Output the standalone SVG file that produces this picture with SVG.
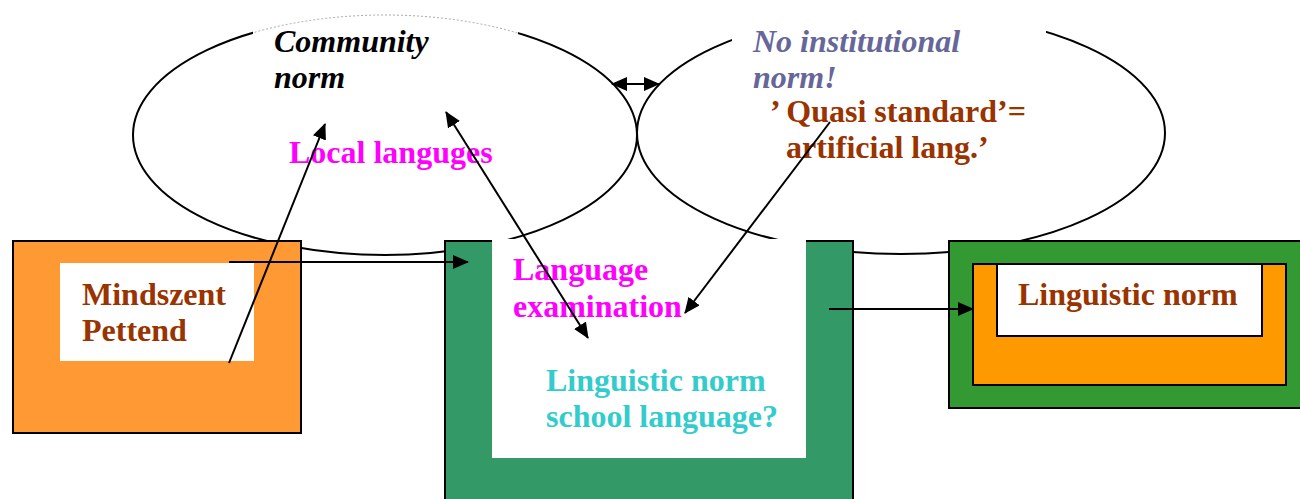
<svg xmlns="http://www.w3.org/2000/svg" width="1300" height="499" viewBox="0 0 1300 499">
<style>
text{font-family:"Liberation Serif","Times New Roman",serif;font-weight:bold;font-size:32px}
.it{font-style:italic}
.ell{fill:none;stroke:#000;stroke-width:2}
.box{stroke:#000;stroke-width:2}
.ln{fill:none;stroke:#000;stroke-width:2}
</style>
<defs>
<marker id="ah" markerUnits="userSpaceOnUse" markerWidth="16" markerHeight="14" refX="15" refY="7" orient="auto-start-reverse">
<path d="M0,0 L16,7 L0,14 Z" fill="#000"/>
</marker>
<clipPath id="gapL"><rect x="253" y="5" width="265" height="32"/></clipPath>
</defs>
<rect width="1300" height="499" fill="#fff"/>
<g id="ellipse-community">
<ellipse class="ell" cx="385" cy="135" rx="252" ry="120"/>
<rect x="253" y="5" width="265" height="32" fill="#fff"/>
<ellipse cx="385" cy="135" rx="252" ry="120" fill="none" stroke="#aaa" stroke-width="1" stroke-dasharray="2 2" clip-path="url(#gapL)"/>
<text class="it" x="274" y="52">Community</text>
<text class="it" x="274" y="88">norm</text>
<text x="289" y="163" fill="#FF00FF">Local languges</text>
</g>
<g id="ellipse-institutional">
<ellipse class="ell" cx="901" cy="133" rx="264" ry="121"/>
<rect x="732" y="5" width="314" height="36" fill="#fff"/>
<text class="it" x="753" y="52" fill="#666699">No institutional</text>
<text class="it" x="753" y="88" fill="#666699">norm!</text>
<text x="770" y="122" fill="#993300">’ Quasi standard’=</text>
<text x="786" y="158" fill="#993300">artificial lang.’</text>
</g>
<g id="node-mindszent">
<rect class="box" x="13" y="241" width="288" height="192" fill="#FF9933"/>
<rect x="60" y="263" width="194" height="98" fill="#fff"/>
<text x="82" y="305" fill="#993300">Mindszent</text>
<text x="82" y="341" fill="#993300">Pettend</text>
</g>
<g id="node-school">
<rect class="box" x="445" y="241" width="408" height="270" fill="#339966"/>
<rect x="492" y="239" width="314" height="219" fill="#fff"/>
<text x="513" y="280" fill="#FF00FF">Language</text>
<text x="513" y="317" fill="#FF00FF">examination</text>
<text x="546" y="391" fill="#33CCCC">Linguistic norm</text>
<text x="546" y="427" fill="#33CCCC">school language?</text>
</g>
<g id="node-linguistic-norm">
<rect class="box" x="949" y="241" width="360" height="167" fill="#339933"/>
<rect class="box" x="973" y="264" width="313" height="121" fill="#FF9900"/>
<rect class="box" x="997" y="264" width="265" height="72" fill="#fff"/>
<text x="1018" y="305" fill="#993300">Linguistic norm</text>
</g>
<g id="connectors">
<line class="ln" x1="612" y1="84" x2="659" y2="84" marker-start="url(#ah)" marker-end="url(#ah)"/>
<line class="ln" x1="229" y1="262" x2="468" y2="262" marker-end="url(#ah)"/>
<line class="ln" x1="229" y1="363" x2="325" y2="124" marker-end="url(#ah)"/>
<line class="ln" x1="446" y1="112" x2="588" y2="338" marker-start="url(#ah)" marker-end="url(#ah)"/>
<line class="ln" x1="830" y1="122" x2="685" y2="313" marker-end="url(#ah)"/>
<line class="ln" x1="829" y1="309" x2="973" y2="309" marker-end="url(#ah)"/>
</g>
</svg>
